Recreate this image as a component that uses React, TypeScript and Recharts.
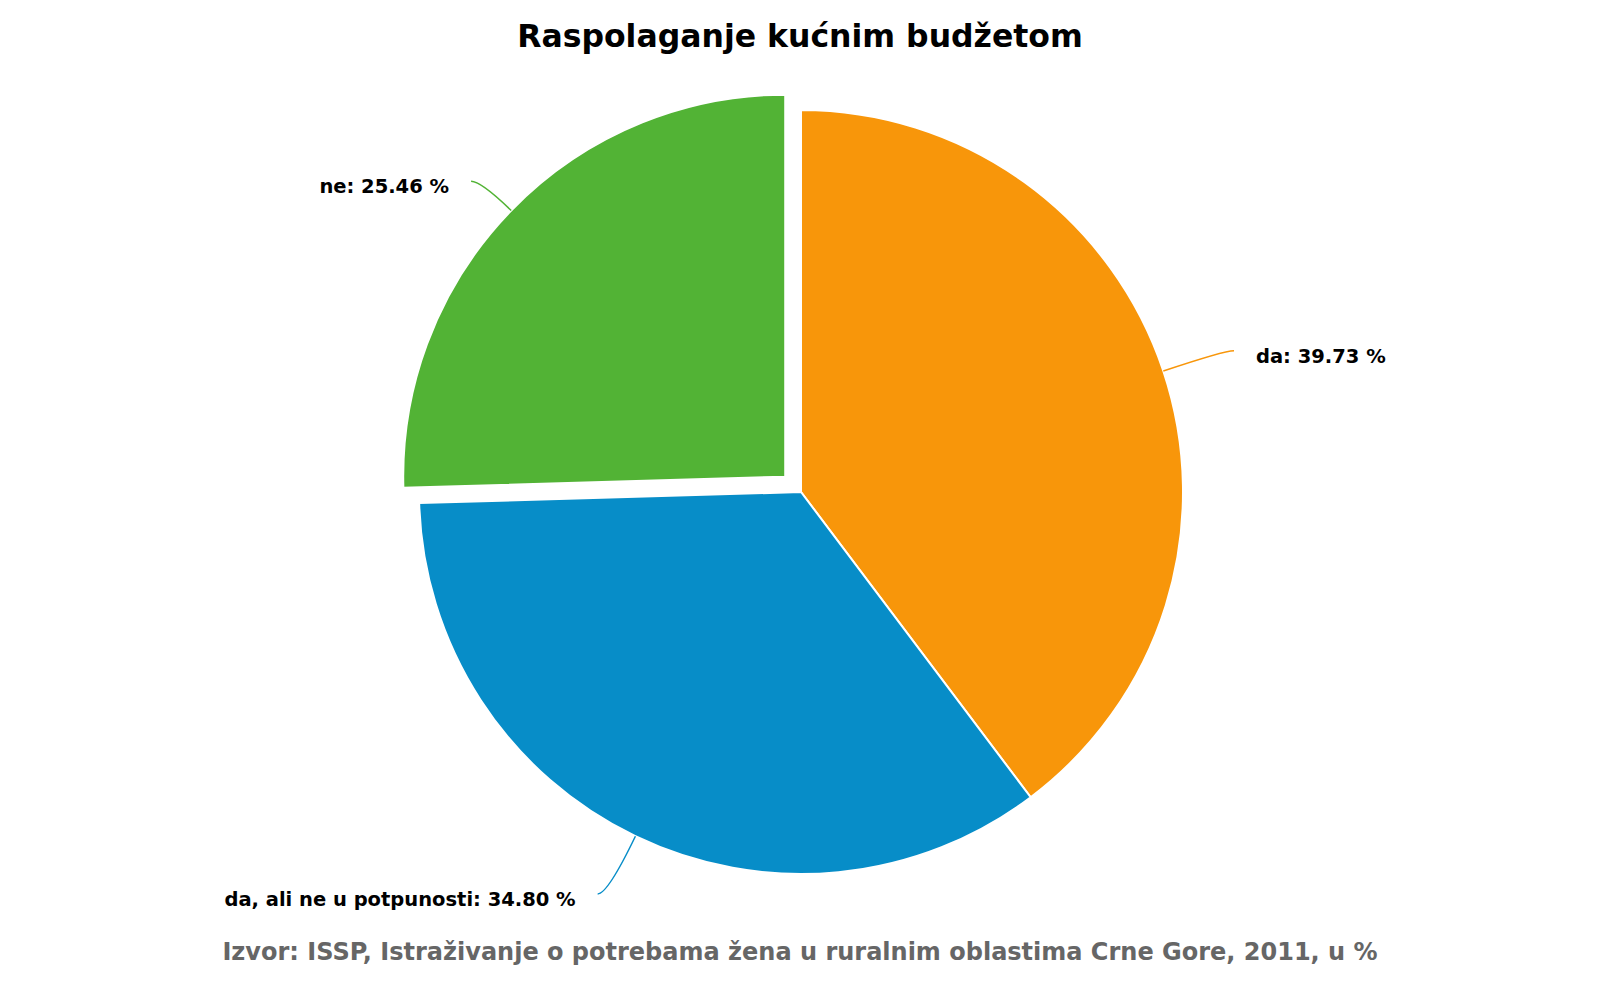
import { PieChart, Pie, Cell } from 'recharts';

const CATEGORIES = ['da', 'da, ali ne u potpunosti', 'ne'];
const VALUES = [39.73, 34.8, 25.46];
const COLORS = ['#F8960A', '#078DC8', '#52B335'];
const EXPLODED_INDEX = 2;

const TITLE = 'Raspolaganje kućnim budžetom';
const SOURCE = 'Izvor: ISSP, Istraživanje o potrebama žena u ruralnim oblastima Crne Gore, 2011, u %';

const WIDTH = 1600;
const HEIGHT = 1000;
const CX = 801;
const CY = 492;
const RADIUS = 382;
const EXPLODE_OFFSET = 22;
const LABEL_DISTANCE = 64; // radial reach of the connector (from the unexploded centre)
const CONNECTOR_TAIL = 10; // horizontal run at the end of the connector
const LABEL_GAP = 22;
const FONT = '"DejaVu Sans", Verdana, sans-serif';
const RAD = Math.PI / 180;

const data = CATEGORIES.map((name, i) => ({ name, value: VALUES[i] }));

// centre of the pulled-out slice: shift along its mid angle
function explodedCenter() {
  const total = VALUES.reduce((a, b) => a + b, 0);
  const before = VALUES.slice(0, EXPLODED_INDEX).reduce((a, b) => a + b, 0);
  const mid = 90 - (360 * (before + VALUES[EXPLODED_INDEX] / 2)) / total;
  return {
    x: CX + EXPLODE_OFFSET * Math.cos(-mid * RAD),
    y: CY + EXPLODE_OFFSET * Math.sin(-mid * RAD),
  };
}

const makeLabel = (visible: number[]) => (props: any) => {
  const { cx, cy, midAngle, outerRadius, index, name, value } = props;
  if (!visible.includes(index)) return null;
  const dx = Math.cos(-midAngle * RAD);
  const dy = Math.sin(-midAngle * RAD);
  const right = dx > 0;
  const sx = cx + outerRadius * dx;
  const sy = cy + outerRadius * dy;
  const ey = CY + (outerRadius + LABEL_DISTANCE) * dy;
  // where the radial line from the slice edge meets the label row
  const qx = sx + (dx * (ey - sy)) / dy;
  const ex = qx + (right ? CONNECTOR_TAIL : -CONNECTOR_TAIL);
  return (
    <g key={`lbl-${index}`}>
      <path
        d={`M${sx},${sy} Q${qx},${ey} ${ex},${ey}`}
        stroke={COLORS[index]}
        strokeWidth={1.5}
        fill="none"
      />
      <text
        x={right ? ex + LABEL_GAP : ex - LABEL_GAP}
        y={ey + 12}
        textAnchor={right ? 'start' : 'end'}
        fontFamily={FONT}
        fontWeight="bold"
        fontSize={19.5}
        fill="#000"
      >
        {`${name}: ${Number(value).toFixed(2)} %`}
      </text>
    </g>
  );
};

export default function App() {
  const ec = explodedCenter();
  const mainIdx = CATEGORIES.map((_, i) => i).filter((i) => i !== EXPLODED_INDEX);

  return (
    <div style={{ position: 'absolute', left: 0, top: 0, width: WIDTH, height: HEIGHT, background: '#fff' }}>
      <PieChart width={WIDTH} height={HEIGHT} margin={{ top: 0, right: 0, bottom: 0, left: 0 }}>
        <Pie
          data={data}
          dataKey="value"
          nameKey="name"
          cx={CX}
          cy={CY}
          outerRadius={RADIUS}
          startAngle={90}
          endAngle={-270}
          stroke="#fff"
          strokeWidth={2}
          label={makeLabel(mainIdx)}
          labelLine={false}
          isAnimationActive={false}
        >
          {data.map((_, i) => (
            <Cell
              key={i}
              fill={i === EXPLODED_INDEX ? 'transparent' : COLORS[i]}
              stroke={i === EXPLODED_INDEX ? 'none' : '#fff'}
            />
          ))}
        </Pie>
        <Pie
          data={data}
          dataKey="value"
          nameKey="name"
          cx={ec.x}
          cy={ec.y}
          outerRadius={RADIUS}
          startAngle={90}
          endAngle={-270}
          stroke="#fff"
          strokeWidth={2}
          label={makeLabel([EXPLODED_INDEX])}
          labelLine={false}
          isAnimationActive={false}
        >
          {data.map((_, i) => (
            <Cell
              key={i}
              fill={i === EXPLODED_INDEX ? COLORS[i] : 'transparent'}
              stroke={i === EXPLODED_INDEX ? '#fff' : 'none'}
            />
          ))}
        </Pie>
      </PieChart>
      <svg
        width={WIDTH}
        height={HEIGHT}
        style={{ position: 'absolute', left: 0, top: 0, pointerEvents: 'none' }}
      >
        <text x={800} y={47} textAnchor="middle" fontFamily={FONT} fontWeight="bold" fontSize={31.5} fill="#000">
          {TITLE}
        </text>
        <text x={800} y={960} textAnchor="middle" fontFamily={FONT} fontWeight="bold" fontSize={24} fill="#666">
          {SOURCE}
        </text>
      </svg>
    </div>
  );
}
